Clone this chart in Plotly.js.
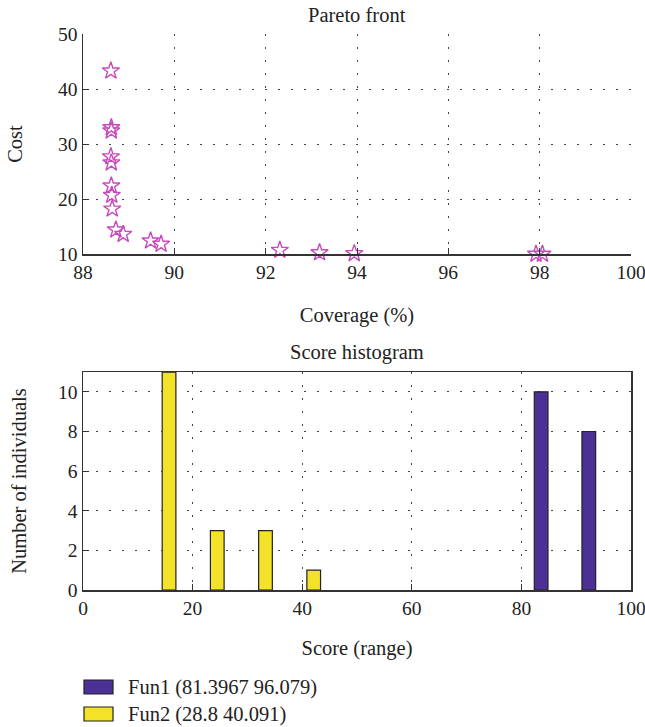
<!DOCTYPE html>
<html><head><meta charset="utf-8">
<script src="https://cdn.plot.ly/plotly-3.0.1.min.js"></script>
<style>html,body{margin:0;padding:0;background:#fff}</style>
</head><body><div id="chart" style="width:645px;height:727px"></div>
<script>
// Pareto front data
const coverage = [88.61, 88.62, 88.62, 88.61, 88.62, 88.62, 88.63, 88.64, 88.72, 88.88, 89.48, 89.71, 92.31, 93.18, 93.94, 97.92, 98.06];
const cost     = [43.3, 33.0, 32.4, 27.7, 26.6, 22.4, 20.7, 18.2, 14.4, 13.6, 12.4, 11.8, 10.7, 10.25, 10.1, 10.0, 10.0];
// Histogram data
const fun1Centers = [83.6, 92.3];
const fun1Counts  = [10, 8];
const fun2Centers = [15.7, 24.5, 33.3, 42.1];
const fun2Counts  = [11, 3, 3, 1];
const seriesNames = ["Fun1 (81.3967 96.079)", "Fun2 (28.8 40.091)"];
const seriesColors = ["#4b3196", "#f3e228"];

const fam = "Liberation Serif, Times New Roman, serif";
const font = {family: fam, size: 20.5, color: "#222"};
const tickFont = {family: fam, size: 19.5, color: "#222"};
const gridCommon = {showgrid: true, gridcolor: "#444", griddash: "1.5px,11.5px", gridwidth: 1,
  zeroline: false, ticks: "inside", ticklen: 6, tickcolor: "#333", linecolor: "#333", linewidth: 1.5,
  showline: true, tickfont: tickFont, ticklabeloverflow: "allow"};

const traces = [
  {type: "scatter", mode: "markers", x: coverage, y: cost, xaxis: "x", yaxis: "y",
   marker: {symbol: "star-open", size: 13, color: "#c94abc", line: {width: 1.4, color: "#c94abc"}},
   cliponaxis: false, showlegend: false},
  {type: "bar", x: fun1Centers, y: fun1Counts, width: 2.5, xaxis: "x2", yaxis: "y2",
   marker: {color: seriesColors[0], line: {color: "#222", width: 1.2}}, name: seriesNames[0], showlegend: false},
  {type: "bar", x: fun2Centers, y: fun2Counts, width: 2.5, xaxis: "x2", yaxis: "y2",
   marker: {color: seriesColors[1], line: {color: "#222", width: 1.2}}, name: seriesNames[1], showlegend: false}
];

const shapes = [];
const annotations = [
  {text: "Pareto front", xref: "paper", yref: "paper", x: 0.5, y: (590 - 15) / 556, yanchor: "middle", showarrow: false, font: font},
  {text: "Score histogram", xref: "paper", yref: "paper", x: 0.5, y: (590 - 352) / 556, yanchor: "middle", showarrow: false, font: font}
];
seriesNames.forEach((n, i) => {
  const yc = 687 + i * 27;
  shapes.push({type: "rect", xref: "paper", yref: "paper",
    x0: (84 - 83) / 548, x1: (113 - 83) / 548,
    y0: (590 - (yc + 7)) / 556, y1: (590 - (yc - 7)) / 556,
    fillcolor: seriesColors[i], line: {color: "#222", width: 1.2}});
  annotations.push({text: n, xref: "paper", yref: "paper", x: (126 - 83) / 548, y: (590 - yc) / 556,
    xanchor: "left", yanchor: "middle", showarrow: false, font: font});
});

const layout = {
  width: 645, height: 727, margin: {l: 83, r: 14, t: 34, b: 137},
  paper_bgcolor: "#fff", plot_bgcolor: "#fff", font: font, barmode: "overlay",
  xaxis: Object.assign({}, gridCommon, {domain: [0, 1], range: [88, 100], dtick: 2, anchor: "y",
    title: {text: "Coverage (%)", font: font, standoff: 25}}),
  yaxis: Object.assign({}, gridCommon, {domain: [0.6043, 1], range: [10, 50], dtick: 10, anchor: "x",
    title: {text: "Cost", font: font, standoff: 30}}),
  xaxis2: Object.assign({}, gridCommon, {domain: [0, 1], range: [0, 100], dtick: 20, anchor: "y2", mirror: true,
    title: {text: "Score (range)", font: font, standoff: 22}}),
  yaxis2: Object.assign({}, gridCommon, {domain: [0, 0.392], range: [0, 11], tickvals: [0,2,4,6,8,10], anchor: "x2", mirror: true,
    title: {text: "Number of individuals", font: font, standoff: 26}}),
  shapes: shapes, annotations: annotations
};
Plotly.newPlot("chart", traces, layout, {displayModeBar: false, staticPlot: true});
</script></body></html>
